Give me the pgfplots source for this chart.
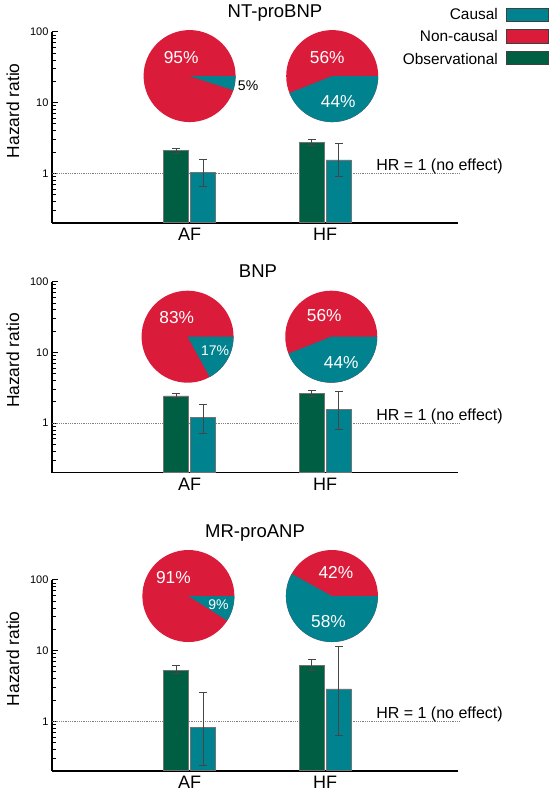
\documentclass[border=0pt]{standalone}
\usepackage{fontspec}
\setmainfont{Liberation Sans}
\usepackage{pgfplots}
\pgfplotsset{compat=1.18}
\usepackage{pgfplotstable}

\definecolor{causal}{RGB}{0,130,143}
\definecolor{noncausal}{RGB}{218,27,58}
\definecolor{obs}{RGB}{0,94,66}
\definecolor{errc}{RGB}{70,70,70}
\newcommand{\fsz}[1]{\fontsize{#1}{#1}\selectfont}

% columns: x, hazard ratio, lower CI, upper CI
% NT-proBNP
\pgfplotstableread{
x y lo hi
-0.1 2.08 1.91 2.25
0.9 2.70 2.48 2.97
}\obsA
\pgfplotstableread{
x y lo hi
0.1 1.02 0.66 1.57
1.1 1.54 0.89 2.64
}\cauA
% BNP
\pgfplotstableread{
x y lo hi
-0.1 2.42 2.27 2.64
0.9 2.61 2.37 2.91
}\obsB
\pgfplotstableread{
x y lo hi
0.1 1.19 0.72 1.84
1.1 1.55 0.82 2.82
}\cauB
% MR-proANP
\pgfplotstableread{
x y lo hi
-0.1 5.26 4.68 6.20
0.9 6.20 5.20 7.40
}\obsC
\pgfplotstableread{
x y lo hi
0.1 0.82 0.236 2.60
1.1 2.87 0.64 11.5
}\cauC

\pgfplotsset{
  every axis/.append style={
    scale only axis, width=406pt, height=191pt,
    ymode=log, ymin=0.2, ymax=100, log origin=infty,
    xmin=-1.015, xmax=1.98,
    axis lines*=left, axis line style={line width=1.8pt,-},
    xtick={0,1}, xticklabels={AF,HF},
    ytick={1,10,100}, yticklabels={1,10,100},
    minor ytick={0.2,0.3,0.4,0.5,0.6,0.7,0.8,0.9,2,3,4,5,6,7,8,9,20,30,40,50,60,70,80,90},
    tick align=inside, ytick pos=left,
    major tick length=6pt, minor tick length=3.5pt,
    every tick/.style={black,line width=0.6pt},
    every x tick/.style={draw=none},
    yticklabel style={font=\fsz{11}},
    xticklabel style={font=\fsz{18}, yshift=-2pt},
    ylabel={Hazard ratio},
    ylabel style={at={(axis description cs:-0.096,0.586)}, anchor=center, font=\fsz{17.4}},
    clip=false,
  },
}
\tikzset{
  hrlab/.style={anchor=base west, font=\fsz{16}, inner sep=0pt},
  pl/.style={font=\fsz{17.3}, text=white, inner sep=0pt},
  plsmall/.style={font=\fsz{14}, text=white, inner sep=0pt},
  hrline/.style={gray, line width=0.8pt, dash pattern=on 0.9pt off 0.9pt},
  errbar/.style={errc, line width=0.7pt, mark=-, mark size=4pt, mark options={solid, line width=0.7pt}},
}
\newcommand{\drawpie}[2]{%
  \fill[noncausal] (#1) circle[radius=46pt];
  \fill[causal] (#1) -- ++(0:46pt) arc[start angle=0, end angle={-3.6*#2}, radius=46pt] -- cycle;
}
% one confidence interval: row #2 of table #1, from lo to hi at x
\newcommand{\ci}[2]{%
  \pgfplotstablegetelem{#2}{x}\of{#1}\edef\cx{\pgfplotsretval}%
  \pgfplotstablegetelem{#2}{lo}\of{#1}\edef\clo{\pgfplotsretval}%
  \pgfplotstablegetelem{#2}{hi}\of{#1}\edef\chigh{\pgfplotsretval}%
  \edef\doci{\noexpand\addplot[errbar] coordinates {(\cx,\clo) (\cx,\chigh)};}%
  \doci
}
\newcommand{\bars}[2]{%
  \addplot[ybar, bar width=0.184, bar shift=0pt, fill=obs, draw=black!55, line width=0.5pt]
    table[x=x,y=y]{#1};
  \addplot[ybar, bar width=0.184, bar shift=0pt, fill=causal, draw=black!55, line width=0.5pt]
    table[x=x,y=y]{#2};
  \ci{#1}{0}\ci{#1}{1}\ci{#2}{0}\ci{#2}{1}%
}

\begin{document}
\begin{tikzpicture}
% ---------- Panel 1 ----------
\begin{axis}[at={(52pt,-222.7pt)}, anchor=south west]
\addplot[hrline] coordinates {(-1.015,1) (1.995,1)};
\bars{\obsA}{\cauA}
\node[hrlab] at ([yshift=2.5pt]axis cs:1.376,1) {HR = 1 (no effect)};
\coordinate (pa1) at (axis cs:0,23.6);
\coordinate (pb1) at (axis cs:1.052,23.6);
\end{axis}
% ---------- Panel 2 ----------
\begin{axis}[at={(52pt,-472.5pt)}, anchor=south west]
\addplot[hrline] coordinates {(-1.015,1) (1.995,1)};
\bars{\obsB}{\cauB}
\node[hrlab] at ([yshift=2.5pt]axis cs:1.376,1) {HR = 1 (no effect)};
\coordinate (pa2) at (axis cs:-0.015,16.6);
\coordinate (pb2) at (axis cs:1.045,16.6);
\end{axis}
% ---------- Panel 3 ----------
\begin{axis}[at={(52pt,-770.7pt)}, anchor=south west]
\addplot[hrline] coordinates {(-1.015,1) (1.995,1)};
\bars{\obsC}{\cauC}
\node[hrlab] at ([yshift=2.7pt]axis cs:1.376,1) {HR = 1 (no effect)};
\coordinate (pa3) at (axis cs:-0.009,58.8);
\coordinate (pb3) at (axis cs:1.050,58.8);
\end{axis}

% ---------- Pies ----------
\drawpie{pa1}{5}
\drawpie{pb1}{44}
\drawpie{pa2}{17}
\drawpie{pb2}{44}
\drawpie{pa3}{9}
\drawpie{pb3}{58}

\node[pl] at ([shift={(-8.5pt,18.3pt)}]pa1) {95\%};
\node[font=\fsz{14}, inner sep=0pt] at ([shift={(58.5pt,-10pt)}]pa1) {5\%};
\node[pl] at ([shift={(-5pt,18.3pt)}]pb1) {56\%};
\node[pl] at ([shift={(6pt,-25.7pt)}]pb1) {44\%};

\node[pl] at ([shift={(-10.8pt,19.4pt)}]pa2) {83\%};
\node[plsmall] at ([shift={(27.5pt,-14.3pt)}]pa2) {17\%};
\node[pl] at ([shift={(-7pt,20.7pt)}]pb2) {56\%};
\node[pl] at ([shift={(10pt,-25.6pt)}]pb2) {44\%};

\node[pl] at ([shift={(-15pt,18.3pt)}]pa3) {91\%};
\node[plsmall] at ([shift={(30pt,-8.3pt)}]pa3) {9\%};
\node[pl] at ([shift={(4pt,23.7pt)}]pb3) {42\%};
\node[pl] at ([shift={(-3.4pt,-25.7pt)}]pb3) {58\%};

% ---------- Titles ----------
\node[anchor=base, font=\fsz{18.5}, inner sep=0pt] at (275pt,-17.5pt) {NT-proBNP};
\node[anchor=base, font=\fsz{18.5}, inner sep=0pt] at (258pt,-277pt) {BNP};
\node[anchor=base, font=\fsz{18.5}, inner sep=0pt] at (255pt,-537.5pt) {MR-proANP};

% ---------- Legend ----------
\node[anchor=base east, font=\fsz{15.4}, inner sep=0pt] at (498pt,-19.3pt) {Causal};
\filldraw[fill=causal, draw=black!75, line width=0.7pt] (506pt,-8pt) rectangle (548pt,-21pt);
\node[anchor=base east, font=\fsz{15.4}, inner sep=0pt] at (498pt,-41pt) {Non-causal};
\filldraw[fill=noncausal, draw=black!75, line width=0.7pt] (506pt,-29.5pt) rectangle (548pt,-43pt);
\node[anchor=base east, font=\fsz{15.4}, inner sep=0pt] at (498pt,-64pt) {Observational};
\filldraw[fill=obs, draw=black!75, line width=0.7pt] (506pt,-51pt) rectangle (548pt,-64pt);

\pgfresetboundingbox
\useasboundingbox (0pt,0pt) rectangle (550pt,-795pt);
\end{tikzpicture}
\end{document}
